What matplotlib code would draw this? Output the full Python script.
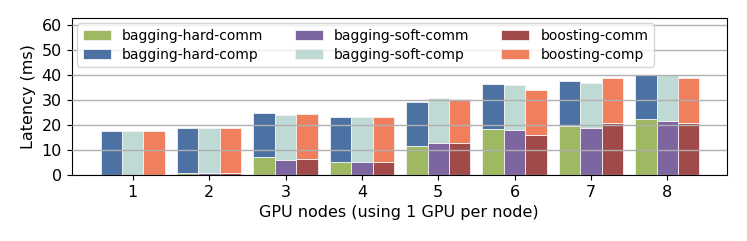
import numpy as np
import matplotlib
matplotlib.use("Agg")
import matplotlib.pyplot as plt

nodes = [1, 2, 3, 4, 5, 6, 7, 8]

# stacked: comm at bottom, comp on top (values are segment heights)
hard_comm = [0.0, 0.8, 7.1, 5.2, 11.4, 18.4, 19.5, 22.4]
hard_total = [17.7, 18.7, 25.0, 23.3, 29.4, 36.3, 37.5, 39.9]
soft_comm = [0.0, 0.7, 5.9, 5.0, 12.8, 17.9, 18.8, 21.6]
soft_total = [17.7, 18.7, 23.9, 23.1, 30.8, 35.9, 36.8, 40.0]
boost_comm = [0.0, 0.8, 6.5, 5.0, 12.8, 16.0, 20.8, 20.8]
boost_total = [17.7, 18.7, 24.5, 23.1, 30.5, 33.9, 38.8, 38.7]

hard_comp = np.array(hard_total) - np.array(hard_comm)
soft_comp = np.array(soft_total) - np.array(soft_comm)
boost_comp = np.array(boost_total) - np.array(boost_comm)

fig = plt.figure(figsize=(7.47, 2.41), dpi=100)
ax = fig.add_axes([0.096, 0.274, 0.877, 0.653])

x = np.array(nodes, dtype=float)
w = 0.28
ekw = dict(edgecolor="#f4f4f4", linewidth=0.6)

groups = [
    (-w, hard_comm, hard_comp, "#9fb862", "#4c71a3", "bagging-hard"),
    (0.0, soft_comm, soft_comp, "#7d65a0", "#bfd9d4", "bagging-soft"),
    (w, boost_comm, boost_comp, "#a04a4a", "#f07f5e", "boosting"),
]
handles = []
for off, comm, comp, c1, c2, name in groups:
    b1 = ax.bar(x + off, comm, w, color=c1, label=name + "-comm", **ekw)
    b2 = ax.bar(x + off, comp, w, bottom=comm, color=c2, label=name + "-comp", **ekw)
    handles += [b1, b2]

ax.set_axisbelow(False)
ax.yaxis.grid(True, color="#b0b0b0", linewidth=1.0)
ax.set_xlim(0.2, 8.78)
ax.set_ylim(0, 63)
ax.set_yticks([0, 10, 20, 30, 40, 50, 60])
ax.set_xticks(nodes)
ax.tick_params(labelsize=11.5)
ax.set_xlabel("GPU nodes (using 1 GPU per node)", fontsize=11.5)
ax.set_ylabel("Latency (ms)", fontsize=11.5)

ax.legend(handles=handles, ncol=3, loc="upper left", fontsize=10,
          bbox_to_anchor=(0.0, 1.0), borderaxespad=0.4, columnspacing=2.3,
          handlelength=2.0, labelspacing=0.35)

fig.savefig("out.png", dpi=100)
